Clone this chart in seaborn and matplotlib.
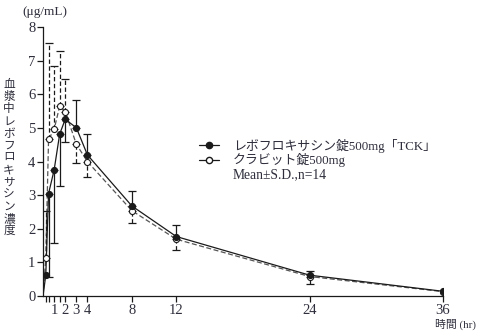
import matplotlib
matplotlib.use("Agg")
import matplotlib.pyplot as plt
from matplotlib.lines import Line2D
import seaborn as sns
import numpy as np
import pandas as pd

# ---- data ----
times = [0, 0.25, 0.5, 1, 1.5, 2, 3, 4, 8, 12, 24, 36]
tck_mean = [0, 0.62, 3.05, 3.75, 4.82, 5.26, 5.01, 4.20, 2.68, 1.77, 0.62, 0.14]
tck_sd = [0, 0, 2.48, 2.18, 1.55, 0.67, 0.84, 0.61, 0.45, 0.33, 0.13, 0]
tck_sd_side = ["none", "low", "low", "low", "low", "low", "up", "up", "up", "up", "up", "none"]
crv_mean = [0, 1.12, 4.66, 4.96, 5.65, 5.49, 4.52, 4.00, 2.54, 1.69, 0.58, 0.13]
crv_sd = [0, 1.41, 2.86, 1.89, 1.65, 0.98, 0.56, 0.45, 0.36, 0.32, 0.22, 0]
crv_sd_side = ["none", "up", "up", "up", "up", "up", "low", "low", "low", "low", "low", "none"]
x_major = [1, 2, 3, 4, 8, 12, 24, 36]
x_minor = [0.25, 0.5, 1.5]
y_ticks = [0, 1, 2, 3, 4, 5, 6, 7, 8]
label_tck = "レボフロキサシン錠500mg「TCK」"
label_crv = "クラビット錠500mg"
note = "Mean±S.D.,n=14"
ylabel = "血漿中レボフロキサシン濃度"
yunit = "(μg/mL)"
xlabel = "時間 (hr)"

sns.set_style("ticks")
FAM = ["Liberation Serif", "Noto Sans CJK JP", "DejaVu Sans"]
plt.rcParams["font.family"] = FAM
plt.rcParams["axes.unicode_minus"] = False

ink = "#1a1a1a"
txt = "#2e2e3c"

fig = plt.figure(figsize=(4.81, 3.32), dpi=100)
ax = fig.add_axes([0.0894, 0.1084, 0.8316, 0.8094])

df_t = pd.DataFrame({"time": times, "conc": tck_mean})
df_c = pd.DataFrame({"time": times, "conc": crv_mean})

# lines
sns.lineplot(data=df_c, x="time", y="conc", ax=ax, color="#555555", lw=0.9,
             linestyle=(0, (4, 2)), estimator=None, errorbar=None, zorder=2)
sns.lineplot(data=df_t, x="time", y="conc", ax=ax, color=ink, lw=0.9,
             estimator=None, errorbar=None, zorder=3)

# error bars (one-sided)
def sided(mean, sd, side):
    lo = [s if d == "low" else 0 for s, d in zip(sd, side)]
    hi = [s if d == "up" else 0 for s, d in zip(sd, side)]
    return np.array([lo, hi])

t_arr = np.array(times)
mask = t_arr > 0
yerr_c = sided(crv_mean, crv_sd, crv_sd_side)
yerr_t = sided(tck_mean, tck_sd, tck_sd_side)
for i in range(len(times)):
    if crv_sd[i] > 0:
        e = ax.errorbar([times[i]], [crv_mean[i]], yerr=yerr_c[:, i:i+1], fmt="none",
                        ecolor=ink, elinewidth=0.9, capsize=3, capthick=0.9, zorder=2)
        e[2][0].set_linestyle((0, (3.5, 2)))
    if tck_sd[i] > 0:
        ax.errorbar([times[i]], [tck_mean[i]], yerr=yerr_t[:, i:i+1], fmt="none",
                    ecolor=ink, elinewidth=0.9, capsize=3, capthick=0.9, zorder=3)

# markers
sns.scatterplot(x=t_arr[mask], y=np.array(crv_mean)[mask], ax=ax, marker="o", s=19,
                facecolor="white", edgecolor=ink, linewidth=0.8, zorder=4)
sns.scatterplot(x=t_arr[mask], y=np.array(tck_mean)[mask], ax=ax, marker="o", s=19,
                color=ink, edgecolor=ink, linewidth=0.8, zorder=5)

ax.set_xlim(0, 36)
ax.set_ylim(0, 8)
ax.set_xticks(x_major)
ax.set_xticks(x_minor, minor=True)
ax.set_yticks(y_ticks)
ax.set_xticklabels([str(v) for v in x_major])
ax.set_yticklabels([str(v) for v in y_ticks])
ax.tick_params(axis="both", which="major", direction="out", length=4, width=0.9,
               labelsize=10.5, labelcolor=txt, color=ink, pad=1.5)
ax.tick_params(axis="x", which="minor", direction="out", length=4, width=0.9, color=ink)
for s in ["top", "right"]:
    ax.spines[s].set_visible(False)
for s in ["left", "bottom"]:
    ax.spines[s].set_linewidth(0.9)
    ax.spines[s].set_color(ink)
ax.set_xlabel("")
ax.set_ylabel("")

# legend
handles = [
    Line2D([0], [0], color=ink, lw=0.9, marker="o", markersize=4.5, markerfacecolor=ink, markeredgecolor=ink),
    Line2D([0], [0], color=ink, lw=0.9, marker="o", markersize=4.5, markerfacecolor="white", markeredgecolor=ink),
]
leg = ax.legend(handles, [label_tck, label_crv], loc="upper left",
                bbox_to_anchor=(0.378, 0.605), frameon=False, handlelength=1.5,
                handletextpad=1.1, labelspacing=0.05, borderaxespad=0,
                prop={"family": FAM, "size": 9.3})
for t in leg.get_texts():
    t.set_color(txt)
fig.text(233 / 481, 1 - 175 / 332, note, fontsize=9.8, color=txt, family=FAM,
         ha="left", va="center")

# axis texts
fig.text(9 / 481, 1 - 158 / 332, "\n".join(ylabel), fontsize=8.4, color=txt,
         family=FAM, ha="center", va="center", linespacing=1.02)
fig.text(45 / 481, 1 - 12 / 332, yunit, fontsize=9.5, color=txt, family=FAM,
         ha="center", va="center")
fig.text(455 / 481, 1 - 324 / 332, xlabel, fontsize=7.8, color=txt, family=FAM,
         ha="center", va="center")

fig.savefig("out.png", dpi=100)
